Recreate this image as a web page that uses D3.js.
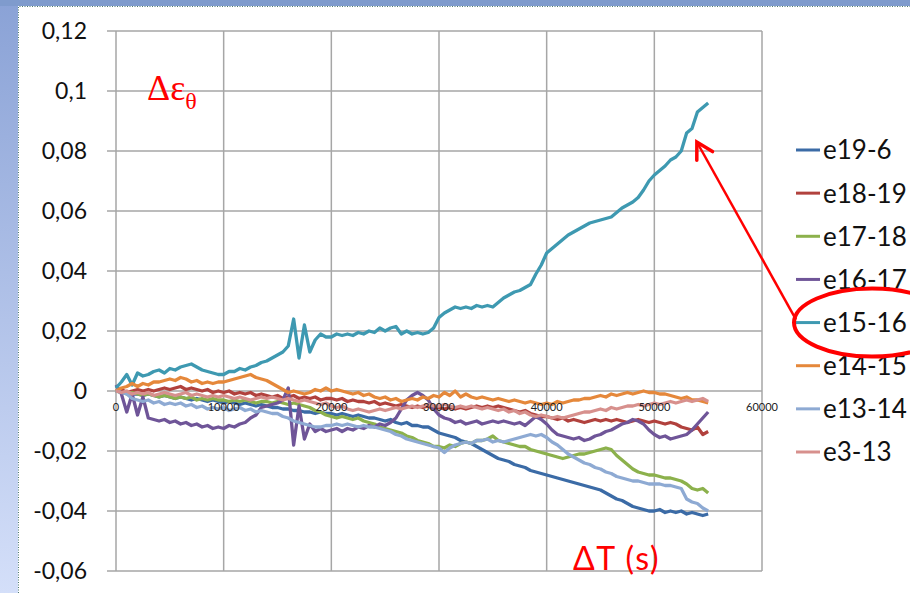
<!DOCTYPE html>
<html>
<head>
<meta charset="utf-8">
<script src="https://cdn.jsdelivr.net/npm/d3@7"></script>
<style>
  body { margin: 0; background: #fff; }
  svg { display: block; }
</style>
</head>
<body>
<svg id="chart"></svg>
<script>
const width = 910;
const height = 593;

const seriesNames = ["e19-6", "e18-19", "e17-18", "e16-17", "e15-16", "e14-15", "e13-14", "e3-13"];
const seriesColors = ["#3b6ba6", "#b1413d", "#8cb14c", "#6f5598", "#3e99b1", "#e5883b", "#8eaad3", "#d7908d"];

// strain change in units of 1e-3, one value every 500 s from 0 to 55000 s
const e19_6 = [
  0, -0.5, -0.5, -1, -1, -1.5, -1, -1.5, -2, -1.5,
  -2, -2.5, -2, -2.5, -3, -2.5, -3, -3.5, -3, -3.5,
  -4, -3.5, -4, -4.5, -4, -4.5, -5, -4.5, -5, -5.5,
  -5.5, -6, -6, -6.5, -6.5, -7, -7, -7.5, -7, -7.5,
  -7.5, -8, -7.5, -8, -8.5, -8, -8.5, -9, -9, -9.5,
  -10, -9.5, -10.5, -11, -10.5, -11.5, -11.5, -12, -12, -13,
  -14, -14.5, -15, -15.5, -16.5, -17, -17.5, -18.5, -19.5, -20.5,
  -21.5, -22.5, -23, -23.5, -24.5, -25, -25.5, -26.5, -27, -27.5,
  -28, -28.5, -29, -29.5, -30, -30.5, -31, -31.5, -32, -32.5,
  -33, -34, -35, -36, -36.5, -37.5, -38.5, -39, -39.5, -40,
  -40, -39.5, -40.5, -40, -40.5, -40, -41, -40.5, -41, -41.5, -41
];
const e18_19 = [
  0, 0.5, -0.5, 0, 0.5, 0, 0.5, 0, 0.5, 1,
  0.5, 1, 1.5, 0.5, 1, 0.5, 0, 0.5, -0.5, 0,
  -0.5, 0, -1, -0.5, -1, -0.5, -1.5, -1, -1.5, -2,
  -1.5, -2.5, -2, -1.5, -2.5, -2, -2.5, -2, -3, -2.5,
  -2.5, -3, -2.5, -3.5, -3, -3.5, -3.5, -4, -3.5, -4.5,
  -4, -4.5, -5, -4.5, -5, -5.5, -5, -5.5, -5, -6,
  -5.5, -6, -5.5, -6, -5.5, -6, -5.5, -5, -5.5, -5,
  -5.5, -5, -5.5, -6, -6.5, -7, -6.5, -7.5, -8, -8.5,
  -8.5, -9, -9.5, -9, -10, -9.5, -10, -10.5, -10, -9.5,
  -10, -9.5, -10, -9.5, -10, -10.5, -10, -9.5, -10, -10.5,
  -10, -10.5, -11, -10.5, -11, -12, -12.5, -13, -12, -14.5, -13.5
];
const e17_18 = [
  0, -0.5, -1, -0.5, -1, -1.5, -1, -1.5, -2, -1.5,
  -2, -2.5, -2, -2.5, -2, -3, -2.5, -3, -2.5, -3,
  -3, -3.5, -3, -3.5, -3, -3.5, -4, -3.5, -3.5, -4,
  -3.5, -4, -4.5, -4, -4.5, -5, -5.5, -6.5, -7, -8,
  -8.5, -9, -8.5, -9, -9.5, -9, -10, -10.5, -11, -12,
  -12.5, -13, -13.5, -14, -15, -15.5, -16.5, -17, -17.5, -18.5,
  -18.5, -19, -18, -18.5, -17.5, -17, -17.5, -16.5, -16.5, -16,
  -15, -16.5, -17, -17.5, -18, -18.5, -18.5, -19.5, -20, -20.5,
  -21, -21.5, -22, -22.5, -22, -21.5, -21, -21, -20.5, -20,
  -19.5, -19, -19.5, -21.5, -23, -24.5, -26, -27, -27.5, -28,
  -28, -28.5, -29, -29, -29.5, -30, -31, -32.5, -33, -32.5, -34
];
const e16_17 = [
  2, -1, -7, -1, -8, -2, -9, -9.5, -10, -9.5,
  -10.5, -10, -11, -10.5, -11.5, -11, -12, -11.5, -12.5, -12,
  -12.5, -11.5, -12, -11, -10.5, -9, -8, -5.5, -5, -4.5,
  -4, -3, 1, -18, -5, -16, -11, -13.5, -12.5, -13.5,
  -13, -12.5, -13.5, -12.5, -13, -12, -12.5, -11.5, -12, -11,
  -11.5, -10.5, -9, -6, -3, -1.5, -0.5, -1.5, -3, -6,
  -8, -9, -9.5, -10.5, -10, -11, -10.5, -10, -11, -10.5,
  -10, -10.5, -10, -10.5, -11, -10.5, -11.5, -10, -8.5, -9.5,
  -11, -13, -14.5, -15, -15.5, -16, -15.5, -16.5, -16, -15,
  -14.5, -13.5, -13, -12, -11, -10.5, -9.5, -10, -11, -13,
  -14.5, -15.5, -15, -16, -15.5, -15, -14.5, -13, -11, -9, -7
];
const e15_16 = [
  1, 3, 5.5, 2, 6, 5, 5.5, 6.5, 7, 6,
  7.5, 7, 8, 8.5, 9, 8, 7, 6.5, 6, 5.5,
  5.5, 6.5, 6.5, 7.5, 7, 8, 8.5, 9.5, 10, 11,
  12, 13, 15, 24, 11, 22, 13, 17, 19, 18,
  18, 19, 18.5, 19, 18.5, 19.5, 19, 20, 19.5, 21,
  20, 21, 21.5, 19, 20, 19, 19.5, 19, 19.5, 21,
  24.5, 26, 27, 28, 27.5, 28, 27.5, 28.5, 28, 28.5,
  28, 29.5, 31, 32, 33, 33.5, 34.5, 35.5, 39, 42,
  46, 47.5, 49, 50.5, 52, 53, 54, 55, 56, 56.5,
  57, 57.5, 58, 59.5, 61, 62, 63, 64.5, 67, 70,
  72, 73.5, 75, 77, 78, 80, 86, 87.5, 93, 94.5, 96
];
const e14_15 = [
  0, 1, 1.5, 2.5, 1.5, 2.5, 2, 3, 3, 3.5,
  4, 3.5, 4.5, 4, 3, 3.5, 2.5, 3, 2.5, 3,
  3, 3.5, 4, 4.5, 5, 5.5, 4.5, 4, 3.5, 2.5,
  1.5, 0.5, -0.5, 0, -0.5, -1, -0.5, 0.5, 0, 1,
  0, 0.5, 0, -0.5, -1, -0.5, -1.5, -1, -2, -2.5,
  -2, -3, -2.5, -3.5, -3, -2.5, -3, -2, -2.5, -1.5,
  -2, -0.5, -1.5, 0, -2, -1, -2, -2.5, -2, -2.5,
  -3, -2.5, -3, -3.5, -3, -3.5, -4, -3.5, -4, -4.5,
  -4, -4.5, -3.5, -4, -3.5, -3, -3, -2.5, -2.5, -2,
  -1.5, -2, -1, -1.5, -1, -0.5, -1, -0.5, 0, -0.5,
  -0.5, -1, -1, -1.5, -2, -2.5, -2, -3, -3, -3.5, -4
];
const e13_14 = [
  0, -0.5, -1, -2.5, -3, -3.5, -3, -4, -3.5, -4.5,
  -4, -4.5, -4, -5, -4.5, -5.5, -5, -6, -5.5, -6,
  -5.5, -6.5, -6, -5.5, -6.5, -6, -7, -6.5, -7, -7.5,
  -7.5, -8.5, -9, -10, -10.5, -11, -11.5, -12, -12, -11.5,
  -11.5, -11, -11.5, -11, -11.5, -12, -11.5, -12, -12, -12.5,
  -13, -13.5, -14.5, -15, -16, -16.5, -17, -17.5, -18, -18.5,
  -19, -20.5, -19, -18, -17.5, -17, -17.5, -16.5, -16.5, -16,
  -17, -16.5, -17, -16.5, -16, -15.5, -15, -14.5, -15, -14.5,
  -15.5, -17, -18, -19.5, -21, -22, -23, -24, -24.5, -25.5,
  -26, -27, -27.5, -28.5, -29, -29.5, -30, -30, -30.5, -31,
  -31, -31, -31.5, -31.5, -32, -32.5, -36, -37, -37.5, -39, -40
];
const e3_13 = [
  0, -0.5, 0, -1, -0.5, -1, -0.5, -1.5, -1, -0.5,
  -1, -1.5, -1, -0.5, -1.5, -1, -1.5, -2, -1.5, -2,
  -1.5, -2, -2.5, -2, -2.5, -3, -2.5, -2, -2.5, -2,
  -2.5, -3, -2.5, -3, -3.5, -3, -3.5, -4, -4.5, -4,
  -5, -5.5, -5, -6, -6.5, -6, -6.5, -7, -6.5, -6,
  -6.5, -6, -5.5, -6, -5.5, -5, -5.5, -5, -4.5, -5,
  -5, -4.5, -5, -5.5, -5, -5.5, -5, -5.5, -6, -5.5,
  -6, -6.5, -6, -7, -6.5, -7.5, -7, -8, -8.5, -8,
  -8.5, -9, -8.5, -9, -8.5, -8, -7.5, -7, -7, -6.5,
  -6, -6.5, -5.5, -6, -5.5, -5, -5, -4.5, -5, -4.5,
  -4, -4.5, -4, -3.5, -4, -3.5, -3, -3.5, -3, -2.5, -3.5
];

const seriesValues = [e19_6, e18_19, e17_18, e16_17, e15_16, e14_15, e13_14, e3_13];
const valueUnit = 1e-3;
const timeStep = 500;

const xTicks = [0, 10000, 20000, 30000, 40000, 50000, 60000];
const yTicks = [-0.06, -0.04, -0.02, 0, 0.02, 0.04, 0.06, 0.08, 0.1, 0.12];

// the arrow points from the circled legend entry to this spot of e15-16
const highlighted = "e15-16";
const arrowTip = { t: 53950, v: 0.083 };

const plot = { left: 116, right: 762, top: 31, bottom: 571 };

const svg = d3.select("#chart").attr("width", width).attr("height", height);

const x = d3.scaleLinear().domain([0, 60000]).range([plot.left, plot.right]);
const y = d3.scaleLinear().domain([-0.06, 0.12]).range([plot.bottom, plot.top]);

const commaLocale = d3.formatLocale({
  decimal: ",",
  thousands: ".",
  grouping: [3],
  currency: ["", ""],
  minus: "-",
});
const yFormat = commaLocale.format(".2~f");

// window frame of the original screenshot
const defs = svg.append("defs");
const frameGrad = defs
  .append("linearGradient")
  .attr("id", "frameGrad")
  .attr("x1", 0)
  .attr("y1", 0)
  .attr("x2", 0)
  .attr("y2", 1);
frameGrad.append("stop").attr("offset", "0%").attr("stop-color", "#8aa2d6");
frameGrad.append("stop").attr("offset", "100%").attr("stop-color", "#d4dff9");

svg
  .append("rect")
  .attr("width", 18)
  .attr("height", height)
  .attr("fill", "url(#frameGrad)");
svg
  .append("rect")
  .attr("width", width)
  .attr("height", 6)
  .attr("fill", "#7f9bcd");
svg
  .append("path")
  .attr("d", `M18.5,${height} V6.5 H${width}`)
  .attr("fill", "none")
  .attr("stroke", "#4f7a72")
  .attr("stroke-width", 1)
  .attr("stroke-dasharray", "1,1.5");

// grid
svg
  .selectAll(".hgrid")
  .data(yTicks)
  .join("line")
  .attr("class", "hgrid")
  .attr("x1", plot.left - 9)
  .attr("x2", plot.right)
  .attr("y1", (d) => y(d))
  .attr("y2", (d) => y(d))
  .attr("stroke", "#a6a6a6")
  .attr("stroke-width", 1.5);

svg
  .selectAll(".vgrid")
  .data(xTicks)
  .join("line")
  .attr("class", "vgrid")
  .attr("x1", (d) => x(d))
  .attr("x2", (d) => x(d))
  .attr("y1", plot.top)
  .attr("y2", plot.bottom)
  .attr("stroke", "#a6a6a6")
  .attr("stroke-width", 1.5);

// y tick labels
svg
  .selectAll(".ylabel")
  .data(yTicks)
  .join("text")
  .attr("class", "ylabel")
  .attr("x", 87)
  .attr("y", (d) => y(d))
  .attr("dy", "0.35em")
  .attr("text-anchor", "end")
  .attr("font-family", "Lato, sans-serif")
  .attr("font-size", 23)
  .attr("fill", "#111")
  .text((d) => yFormat(d));

// series
const line = d3
  .line()
  .x((d, i) => x(i * timeStep))
  .y((d) => y(d * valueUnit));

svg
  .selectAll(".series")
  .data(seriesValues)
  .join("path")
  .attr("class", "series")
  .attr("fill", "none")
  .attr("stroke", (d, i) => seriesColors[i])
  .attr("stroke-width", 3.3)
  .attr("stroke-linejoin", "round")
  .attr("d", line);

// x tick labels sit under the zero line, drawn over the curves
svg
  .selectAll(".xlabel")
  .data(xTicks)
  .join("text")
  .attr("class", "xlabel")
  .attr("x", (d) => x(d))
  .attr("y", y(0) + 20)
  .attr("text-anchor", "middle")
  .attr("font-family", "Lato, sans-serif")
  .attr("font-size", 11)
  .attr("fill", "#222")
  .text((d) => d);

// axis titles
const yTitle = svg
  .append("text")
  .attr("x", 147)
  .attr("y", 100)
  .attr("font-family", "'Liberation Serif', serif")
  .attr("font-size", 36)
  .attr("fill", "#ff0000");
yTitle.append("tspan").text("Δε");
yTitle.append("tspan").attr("dy", 9).attr("font-size", 24).text("θ");

svg
  .append("text")
  .attr("x", 573)
  .attr("y", 570)
  .attr("font-family", "Lato, sans-serif")
  .attr("font-size", 32)
  .attr("letter-spacing", 1.6)
  .attr("fill", "#ff0000")
  .text("ΔT (s)");

// legend
const legendY = d3.scalePoint().domain(seriesNames).range([150, 452]);

const legend = svg
  .selectAll(".legend")
  .data(seriesNames)
  .join("g")
  .attr("class", "legend")
  .attr("transform", (d) => `translate(796,${legendY(d)})`);

legend
  .append("line")
  .attr("x1", 0)
  .attr("x2", 24)
  .attr("stroke", (d, i) => seriesColors[i])
  .attr("stroke-width", 3);

legend
  .append("text")
  .attr("x", 27)
  .attr("dy", "0.36em")
  .attr("font-family", "Lato, sans-serif")
  .attr("font-size", 26)
  .attr("fill", "#111")
  .text((d) => d);

// annotation: circle round the legend entry and arrow to the curve
const markY = legendY(highlighted);

defs
  .append("marker")
  .attr("id", "openHead")
  .attr("markerUnits", "userSpaceOnUse")
  .attr("viewBox", "-20 -12 24 24")
  .attr("refX", 0)
  .attr("refY", 0)
  .attr("markerWidth", 24)
  .attr("markerHeight", 24)
  .attr("orient", "auto")
  .append("path")
  .attr("d", "M-16,-9 L0,0 L-16,9")
  .attr("fill", "none")
  .attr("stroke", "#ff0000")
  .attr("stroke-width", 3.5)
  .attr("stroke-linecap", "round");

svg
  .append("line")
  .attr("x1", 796)
  .attr("y1", markY - 3)
  .attr("x2", x(arrowTip.t))
  .attr("y2", y(arrowTip.v))
  .attr("stroke", "#ff0000")
  .attr("stroke-width", 2.5)
  .attr("marker-end", "url(#openHead)");

svg
  .append("ellipse")
  .attr("cx", 872)
  .attr("cy", markY)
  .attr("rx", 78)
  .attr("ry", 34)
  .attr("fill", "none")
  .attr("stroke", "#ff0000")
  .attr("stroke-width", 4);
</script>
</body>
</html>
